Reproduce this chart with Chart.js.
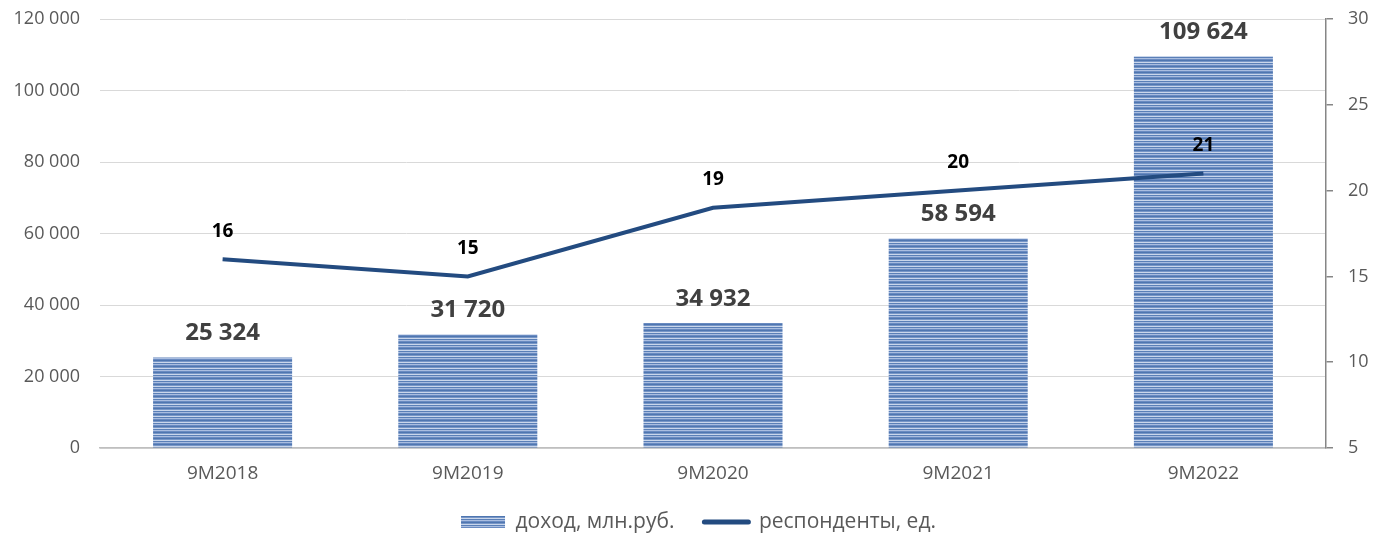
<!DOCTYPE html>
<html>
<head>
<meta charset="utf-8">
<script src="https://cdn.jsdelivr.net/npm/chart.js@4"></script>
<style>
html,body{margin:0;padding:0;background:#fff;}
#wrap{width:1376px;height:534px;position:relative;}
</style>
</head>
<body>
<div id="wrap"><canvas id="c" width="1376" height="534"></canvas></div>
<script>
const categories = ['9M2018', '9M2019', '9M2020', '9M2021', '9M2022'];
const incomeValues = [25324, 31720, 34932, 58594, 109624];
const respondentValues = [16, 15, 19, 20, 21];
const incomeLabel = 'доход, млн.руб.';
const respondentLabel = 'респонденты, ед.';
const leftTicks = [0, 20000, 40000, 60000, 80000, 100000, 120000];
const rightTicks = [5, 10, 15, 20, 25, 30];

const FONT = "'Open Sans', 'DejaVu Sans', sans-serif";

function fmt(v) {
  return String(Math.round(v)).replace(/\B(?=(\d{3})+(?!\d))/g, ' ');
}

// striped fill pattern for bars
function makePattern() {
  const pc = document.createElement('canvas');
  pc.width = 8; pc.height = 6;
  const g = pc.getContext('2d');
  const rows = ['#4f76b0', '#7796c7', '#c9d6eb', '#5a7fb7', '#a9bde0', '#6a8bc1'];
  rows.forEach((c, i) => { g.fillStyle = c; g.fillRect(0, i, 8, 1); });
  return g.createPattern(pc, 'repeat');
}
const barPattern = makePattern();
const lineColor = '#234b80';

const labelPlugin = {
  id: 'valueLabels',
  afterLayout(chart) {
    const lg = chart.legend;
    if (lg) { lg.top = 481.5; lg.bottom = 534; lg.left = 86; lg.right = 1311; }
  },
  afterDatasetsDraw(chart) {
    const ctx = chart.ctx;
    ctx.save();
    ctx.textAlign = 'center';
    ctx.textBaseline = 'middle';
    const barMeta = chart.getDatasetMeta(0);
    ctx.font = "bold 24px " + FONT;
    ctx.fillStyle = '#404040';
    barMeta.data.forEach((el, i) => {
      ctx.fillText(fmt(chart.data.datasets[0].data[i]), el.x, el.y - 24);
    });
    const lineMeta = chart.getDatasetMeta(1);
    ctx.font = "bold 19px " + FONT;
    ctx.fillStyle = '#000000';
    lineMeta.data.forEach((el, i) => {
      ctx.fillText(String(chart.data.datasets[1].data[i]), el.x, el.y - 28);
    });
    ctx.restore();
  }
};

new Chart(document.getElementById('c'), {
  type: 'bar',
  data: {
    labels: categories,
    datasets: [
      {
        type: 'bar',
        label: incomeLabel,
        data: incomeValues,
        backgroundColor: barPattern,
        borderWidth: 0,
        yAxisID: 'y',
        order: 1,
        barPercentage: 0.567,
        categoryPercentage: 1
      },
      {
        type: 'line',
        label: respondentLabel,
        data: respondentValues,
        borderColor: lineColor,
        backgroundColor: lineColor,
        borderWidth: 4,
        pointRadius: 0,
        tension: 0,
        yAxisID: 'y1',
        order: 0
      }
    ]
  },
  options: {
    responsive: false,
    animation: false,
    devicePixelRatio: 1,
    layout: { padding: { top: 19, left: 0, right: 0, bottom: 0 } },
    plugins: {
      tooltip: { enabled: false },
      legend: {
        position: 'bottom',
        fullSize: false,
        maxHeight: 46,
        labels: {
          usePointStyle: true,
          pointStyleWidth: 44,
          boxHeight: 12,
          padding: 30,
          color: '#595959',
          font: { family: FONT, size: 21 },
          generateLabels(chart) {
            const ds = chart.data.datasets;
            return [
              { text: ds[0].label, fillStyle: barPattern, strokeStyle: 'rgba(0,0,0,0)', lineWidth: 0, pointStyle: 'rect', datasetIndex: 0, fontColor: '#595959', hidden: false },
              { text: ds[1].label, fillStyle: lineColor, strokeStyle: lineColor, lineWidth: 5, lineCap: 'round', pointStyle: 'line', datasetIndex: 1, fontColor: '#595959', hidden: false }
            ];
          }
        }
      }
    },
    scales: {
      x: {
        grid: { display: false, drawTicks: false },
        border: { display: true, color: '#bfbfbf', width: 1.5 },
        ticks: { color: '#595959', font: { family: FONT, size: 19 }, padding: 14, maxRotation: 0 },
        afterFit(s) { s.height = 40; }
      },
      y: {
        position: 'left',
        min: 0, max: 120000,
        afterBuildTicks(s) { s.ticks = leftTicks.map(v => ({ value: v })); },
        grid: { color: '#d9d9d9', lineWidth: 1, drawTicks: false },
        border: { display: false },
        ticks: { color: '#595959', font: { family: FONT, size: 18 }, padding: 20, callback: v => fmt(v) },
        afterFit(s) { s.width = 100; s.paddingTop = 0; s.paddingBottom = 0; }
      },
      y1: {
        position: 'right',
        min: 5, max: 30,
        afterBuildTicks(s) { s.ticks = rightTicks.map(v => ({ value: v })); },
        grid: { drawOnChartArea: false, color: '#868686', tickLength: 7, lineWidth: 1.5 },
        border: { display: true, color: '#868686', width: 1.5 },
        ticks: { color: '#595959', font: { family: FONT, size: 18 }, padding: 15 },
        afterFit(s) { s.width = 50; s.paddingTop = 0; s.paddingBottom = 0; }
      }
    }
  },
  plugins: [labelPlugin]
});
</script>
</body>
</html>
